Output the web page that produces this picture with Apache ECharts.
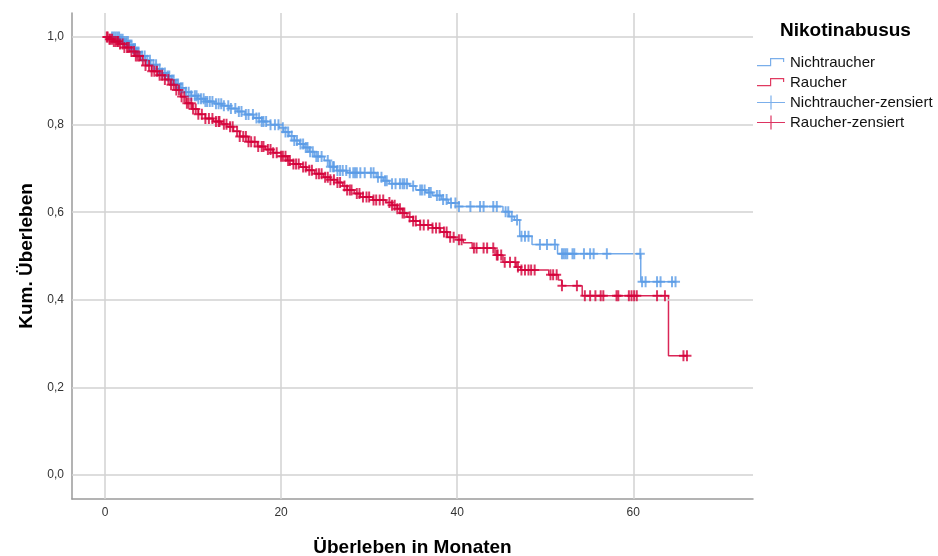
<!DOCTYPE html>
<html><head><meta charset="utf-8">
<script src="https://cdn.jsdelivr.net/npm/echarts@6/dist/echarts.min.js"></script>
<style>html,body{margin:0;padding:0;background:#fff}#c{width:938px;height:556px}</style>
</head><body><div id="c"></div>
<script>
const xTicks = [0, 20, 40, 60];
const yTicks = [0, 0.2, 0.4, 0.6, 0.8, 1.0];

// Kaplan-Meier steps [time in months, cumulative survival]
const nichtraucherSteps = [
 [0,1],[1.7,0.995],[2.2,0.99],[2.7,0.982],[3.1,0.974],[3.5,0.966],[4.0,0.957],[4.6,0.947],[5.2,0.937],[5.9,0.927],
 [6.5,0.918],[7.0,0.911],[7.5,0.902],[8.0,0.893],[8.5,0.884],[9.1,0.874],[9.8,0.866],[10.5,0.859],[11.4,0.853],[12.4,0.848],
 [13.3,0.843],[14.1,0.837],[15.0,0.830],[15.9,0.823],[16.9,0.815],[17.8,0.807],[18.8,0.800],[19.8,0.793],[20.3,0.783],[20.9,0.774],
 [21.5,0.764],[22.1,0.756],[22.6,0.748],[23.2,0.738],[23.8,0.727],[24.9,0.718],[25.5,0.704],[26.3,0.695],[27.5,0.690],[30.8,0.680],
 [31.6,0.672],[32.3,0.665],[34.6,0.660],[35.3,0.651],[36.4,0.645],[37.2,0.638],[38.2,0.629],[39.0,0.621],[40.0,0.613],[45.2,0.601],
 [45.9,0.590],[46.5,0.582],[47.1,0.545],[48.5,0.526],[51.4,0.505],[60.85,0.441],[64.8,0.441]
];
const raucherSteps = [
 [0,1],[0.4,0.995],[1.0,0.99],[1.6,0.984],[2.2,0.976],[2.8,0.967],[3.4,0.957],[4.0,0.947],[4.6,0.935],[5.3,0.922],
 [6.0,0.913],[6.8,0.903],[7.4,0.891],[8.0,0.879],[8.6,0.864],[9.2,0.849],[9.9,0.836],[10.6,0.824],[11.4,0.814],[12.3,0.807],
 [13.2,0.801],[13.9,0.795],[14.6,0.785],[15.3,0.773],[16.3,0.761],[17.3,0.750],[18.2,0.743],[19.1,0.736],[20.0,0.728],[20.7,0.718],
 [21.4,0.710],[22.2,0.703],[22.9,0.696],[23.8,0.688],[24.8,0.680],[25.6,0.674],[26.4,0.668],[27.0,0.660],[27.5,0.651],[28.3,0.643],
 [29.0,0.635],[30.4,0.628],[31.9,0.622],[32.6,0.616],[33.2,0.608],[33.8,0.598],[34.3,0.589],[35.0,0.580],[35.8,0.571],[37.2,0.564],
 [38.1,0.555],[38.9,0.543],[39.9,0.537],[40.7,0.530],[41.7,0.518],[44.3,0.502],[45.2,0.486],[46.7,0.475],[47.2,0.468],[50.4,0.457],
 [51.5,0.445],[51.9,0.432],[54.2,0.409],[64.0,0.272],[66.1,0.272]
];

// censoring times (months)
const nichtraucherZensiert = [
 0.8,1.0,1.2,1.4,1.6,1.8,2.0,2.2,2.4,2.6,2.8,3.0,3.2,3.4,3.6,3.8,4.2,4.5,4.8,5.1,5.5,5.8,6.2,6.5,6.8,7.1,7.3,7.6,7.8,8.1,8.3,8.6,
 8.8,9.2,9.5,9.8,10.2,10.4,10.6,10.9,11.2,11.4,11.6,11.9,12.2,12.6,12.9,13.2,13.5,14.0,14.3,14.8,15.2,15.5,16.0,16.3,16.8,17.2,
 17.5,17.8,18.0,18.3,18.8,19.3,19.7,20.2,20.5,20.8,21.2,21.5,21.8,22.2,22.5,22.8,23.0,23.3,23.6,24.0,24.2,24.6,25.3,25.6,25.9,
 26.0,26.4,26.7,27.0,27.4,27.8,28.2,28.4,28.6,29.0,29.5,30.2,30.5,31.0,31.4,31.8,32.0,32.6,33.0,33.5,33.8,34.0,34.3,35.0,35.8,
 36.0,36.3,36.8,37.0,37.7,38.0,38.4,38.8,39.3,39.8,40.2,41.5,42.6,43.0,44.1,44.5,45.5,45.8,46.2,46.8,47.3,47.7,48.1,49.4,50.2,
 51.1,51.9,52.1,52.3,52.5,53.1,53.3,54.4,55.1,55.5,57.0,60.8,61.0,61.4,62.7,63.1,64.4,64.8
];
const raucherZensiert = [
 0.2,0.3,0.5,0.6,0.8,1.0,1.2,1.4,1.5,1.7,2.0,2.2,2.5,2.7,3.0,3.3,3.5,3.7,3.9,4.3,4.6,5.0,5.3,5.6,5.9,6.2,6.5,6.8,7.2,7.5,7.8,
 8.1,8.4,8.7,9.0,9.3,9.5,9.8,10.0,10.3,10.6,11.0,11.4,11.8,12.2,12.6,12.9,13.0,13.5,13.8,14.2,14.5,15.0,15.3,15.7,16.0,16.3,
 16.6,17.0,17.4,17.8,18.0,18.5,18.8,19.1,19.5,20.0,20.2,20.5,20.8,21.0,21.4,21.7,22.0,22.5,22.8,23.2,23.5,24.0,24.3,24.6,25.0,
 25.3,25.6,26.0,26.4,26.7,27.2,27.5,27.8,28.0,28.6,28.9,29.3,29.7,30.0,30.5,30.8,31.2,31.6,32.3,32.6,32.9,33.2,33.5,33.8,34.0,
 34.6,35.0,35.3,35.8,36.2,36.7,37.2,37.6,38.0,38.5,38.8,39.2,39.6,40.2,40.5,41.9,42.2,43.0,43.4,44.1,44.5,44.6,45.0,45.4,46.0,
 46.6,46.9,47.3,47.7,48.1,48.4,48.8,50.6,50.9,51.3,51.9,53.6,54.5,55.1,55.7,56.3,56.6,58.1,58.3,59.5,59.8,60.1,60.4,62.7,63.6,
 65.7,66.1
];

const blue = '#5a9be6', red = '#d4003a';
function survAt(steps, t) { let s = steps[0][1]; for (const p of steps) { if (p[0] <= t) s = p[1]; else break; } return s; }
const plusPath = 'path://M7.8,0H12.2V8.2H20V11.8H12.2V20H7.8V11.8H0V8.2H7.8Z';
const stepIcon = 'path://M0,0L0.01,0L0,0.01ZM28,14L27.99,14L28,13.99ZM0,9.6L13,9.6L13,2.6L27.2,2.6L27.2,6.5L26,6.5L26,3.8L14.2,3.8L14.2,10.8L0,10.8Z';
const plusIcon = 'path://M0,6.4L13.4,6.4L13.4,0L14.6,0L14.6,6.4L28,6.4L28,7.6L14.6,7.6L14.6,14L13.4,14L13.4,7.6L0,7.6Z';
const font = "'Liberation Sans', Arial, sans-serif";
const fmt = v => v.toFixed(1).replace('.', ',');

const gridLines = xTicks.map(v => ({ xAxis: v })).concat(yTicks.map(v => ({ yAxis: v })));

const chart = echarts.init(document.getElementById('c'), null, { renderer: 'canvas' });
chart.setOption({
  animation: false,
  backgroundColor: '#fff',
  title: { text: 'Nikotinabusus', left: 780, top: 21, padding: 0,
    textStyle: { fontFamily: font, fontSize: 19, fontWeight: 'bold', color: '#000' } },
  legend: {
    orient: 'vertical', left: 757, top: 55, padding: 0, itemWidth: 28, itemHeight: 14, itemGap: 5,
    textStyle: { fontFamily: font, fontSize: 15, color: '#111', padding: [0, 0, 0, 0] },
    itemStyle: { borderWidth: 0 },
    data: [
      { name: 'Nichtraucher', icon: stepIcon },
      { name: 'Raucher', icon: stepIcon },
      { name: 'Nichtraucher-zensiert', icon: plusIcon },
      { name: 'Raucher-zensiert', icon: plusIcon }
    ]
  },
  grid: { left: 72, right: 185, top: 13, bottom: 57, containLabel: false, outerBoundsMode: 'none' },
  xAxis: {
    type: 'value', min: -3.75, max: 73.6,
    name: 'Überleben in Monaten', nameLocation: 'middle', nameGap: 39,
    nameTextStyle: { fontFamily: font, fontSize: 19, fontWeight: 'bold', color: '#000' },
    axisLine: { show: true, onZero: false, lineStyle: { color: '#9a9a9a', width: 1.5 } },
    axisTick: { show: false }, splitLine: { show: false },
    axisLabel: { margin: 8, fontFamily: font, fontSize: 12, color: '#333', showMinLabel: false, showMaxLabel: false,
      formatter: v => (xTicks.indexOf(Math.round(v * 1000) / 1000) >= 0 ? String(v) : '') }
  },
  yAxis: {
    type: 'value', min: -0.055, max: 1.055,
    name: 'Kum. Überleben', nameLocation: 'middle', nameGap: 35,
    nameTextStyle: { fontFamily: font, fontSize: 19, fontWeight: 'bold', color: '#000' },
    axisLine: { show: true, onZero: false, lineStyle: { color: '#9a9a9a', width: 1.5 } },
    axisTick: { show: false }, splitLine: { show: false },
    axisLabel: { margin: 8, fontFamily: font, fontSize: 12, color: '#333', showMinLabel: false, showMaxLabel: false,
      formatter: v => (yTicks.some(t => Math.abs(t - v) < 1e-6) ? fmt(v) : '') }
  },
  series: [
    { name: 'grid', type: 'line', data: [], z: 1, silent: true,
      markLine: { silent: true, symbol: ['none', 'none'], label: { show: false }, animation: false,
        lineStyle: { color: '#d2d2d2', width: 1.5, type: 'solid' }, emphasis: { disabled: true }, data: gridLines } },
    { name: 'Nichtraucher', type: 'line', step: 'end', data: nichtraucherSteps, showSymbol: false, z: 3,
      color: blue, lineStyle: { color: blue, width: 1.5, opacity: 0.85 }, itemStyle: { color: '#7aaeea' } },
    { name: 'Raucher', type: 'line', step: 'end', data: raucherSteps, showSymbol: false, z: 4,
      color: red, lineStyle: { color: red, width: 1.5, opacity: 0.85 }, itemStyle: { color: '#e03a60' } },
    { name: 'Nichtraucher-zensiert', type: 'scatter', z: 5, symbol: plusPath, symbolSize: [9, 11],
      itemStyle: { color: blue, opacity: 0.8 },
      data: nichtraucherZensiert.map(t => [t, survAt(nichtraucherSteps, t)]) },
    { name: 'Raucher-zensiert', type: 'scatter', z: 6, symbol: plusPath, symbolSize: [9, 11],
      itemStyle: { color: red, opacity: 0.8 },
      data: raucherZensiert.map(t => [t, survAt(raucherSteps, t)]) }
  ]
});
</script></body></html>
